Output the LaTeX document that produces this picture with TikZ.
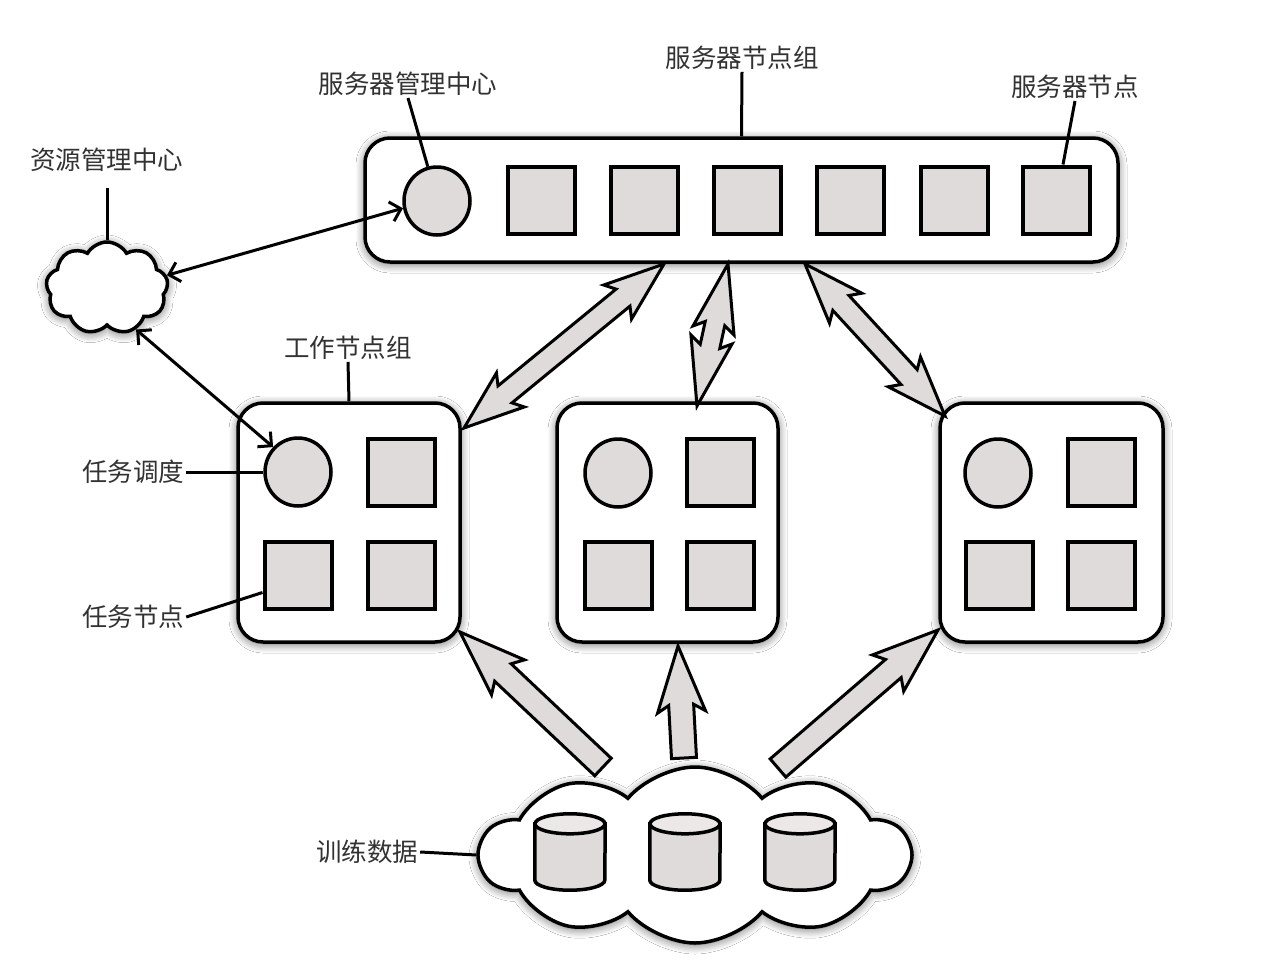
\documentclass[tikz,border=0pt]{standalone}
\usepackage{fontspec}
\setmainfont{Noto Sans CJK SC}
\usetikzlibrary{shapes.symbols,shapes.geometric,calc,arrows.meta,shadows.blur}
\definecolor{boxgray}{RGB}{224,219,219}
\definecolor{topgray}{RGB}{236,232,232}
\definecolor{txt}{RGB}{50,50,50}
\newcommand\fatdouble[5]{%
\draw[fat] let \p1=(#1), \p2=(#2), \n1={atan2(\y2-\y1,\x2-\x1)}, \n2={veclen(\x2-\x1,\y2-\y1)} in
 [shift={(\p1)}, rotate=\n1]
 (0pt,0pt) -- (#5,#4) -- (#5-7pt,#3) -- (\n2-#5+7pt,#3) -- (\n2-#5,#4) -- (\n2,0pt)
 -- (\n2-#5,-#4) -- (\n2-#5+7pt,-#3) -- (#5-7pt,-#3) -- (#5,-#4) -- cycle;}
\newcommand\fatsingle[5]{%
\draw[fat] let \p1=(#1), \p2=(#2), \n1={atan2(\y2-\y1,\x2-\x1)}, \n2={veclen(\x2-\x1,\y2-\y1)} in
 [shift={(\p1)}, rotate=\n1]
 (0pt,#3) -- (\n2-#5+7pt,#3) -- (\n2-#5,#4) -- (\n2,0pt)
 -- (\n2-#5,-#4) -- (\n2-#5+7pt,-#3) -- (0pt,-#3) -- cycle;}
% cylinder drawn around a named node: #1 node name
\newcommand\drum[1]{%
\draw[cylst] ([yshift=-10pt]#1.north west) -- ([yshift=10pt]#1.south west)
  arc[start angle=180, end angle=360, x radius=35pt, y radius=10pt]
  -- ([yshift=-10pt]#1.north east) -- cycle;
\draw[cylst, fill=topgray] ([yshift=-10pt]#1.north) ellipse[x radius=35pt, y radius=10pt];}
\begin{document}
\begin{tikzpicture}[x=1pt,y=-1pt,
  glow/.style={blur shadow={shadow xshift=0pt, shadow yshift=-2pt, shadow opacity=60, shadow blur radius=9pt, shadow blur steps=8}},
  group/.style={draw=black, line width=3.5pt, rounded corners=25pt, fill=white, glow},
  sq/.style={draw=black, line width=4pt, fill=boxgray, minimum width=67pt, minimum height=67pt, inner sep=0pt},
  circ/.style={draw=black, line width=3.5pt, fill=boxgray, ellipse, minimum width=66pt, minimum height=68pt, inner sep=0pt},
  lbl/.style={text=txt, font=\fontsize{25.5}{29}\selectfont, inner sep=2pt},
  lead/.style={draw=black, line width=3pt},
  thinarrow/.style={draw=black, line width=3pt, {Straight Barb[length=10pt,width=20pt]}-{Straight Barb[length=10pt,width=20pt]}},
  fat/.style={draw=black, line width=3pt, fill=boxgray, line join=miter},
  drumbox/.style={minimum width=70pt, minimum height=76pt, inner sep=0pt},
  cylst/.style={draw=black, line width=3.5pt, fill=boxgray},
  cloudy/.style={cloud, draw=black, line width=3.5pt, fill=white, glow, inner sep=0pt}
]
\useasboundingbox (0,0) rectangle (1278,972);
\fill[white] (0,0) rectangle (1278,972);

% server group
\node[group, minimum width=753pt, minimum height=124pt] (sg) at (741.5,200) {};
\node[circ] (c0) at (437,201) {};
\foreach \i/\x in {1/541,2/644,3/747,4/850,5/954,6/1056}
  \node[sq] (s\i) at (\x,200) {};

% resource cloud
\node[cloudy, cloud puffs=9, cloud puff arc=120, minimum width=122pt, minimum height=92pt] (cl) at (107,288) {};

% worker groups
\node[group, minimum width=222pt, minimum height=239pt] (w1) at (349,522.5) {};
\node[group, minimum width=221pt, minimum height=239pt] (w2) at (667.5,522.5) {};
\node[group, minimum width=223pt, minimum height=239pt] (w3) at (1051.5,522.5) {};
\node[circ] (wc1) at (298,472) {};
\node[sq] (wa1) at (401,472) {};
\node[sq] (wb1) at (298,575) {};
\node[sq] (wd1) at (401,575) {};
\node[circ] (wc2) at (618,473) {};
\node[sq] (wa2) at (720,472) {};
\node[sq] (wb2) at (618,575) {};
\node[sq] (wd2) at (720,575) {};
\node[circ] (wc3) at (998,473) {};
\node[sq] (wa3) at (1101,472) {};
\node[sq] (wb3) at (999,575) {};
\node[sq] (wd3) at (1101,575) {};

% data cloud
\node[cloudy, cloud puffs=10, cloud puff arc=100, minimum width=430pt, minimum height=176pt] (dc) at (695,855) {};
\node[drumbox] (d1) at (570,852) {};
\node[drumbox] (d2) at (685,852) {};
\node[drumbox] (d3) at (800,852) {};
\drum{d1}\drum{d2}\drum{d3}

% labels
\node[lbl] (l1) at (408,84) {服务器管理中心};
\node[lbl] (l2) at (742,58) {服务器节点组};
\node[lbl] (l3) at (1075,87) {服务器节点};
\node[lbl] (l4) at (107,160) {资源管理中心};
\node[lbl] (l5) at (348,348) {工作节点组};
\node[lbl] (l6) at (133,472) {任务调度};
\node[lbl] (l7) at (133,617) {任务节点};
\node[lbl] (l8) at (367,852) {训练数据};

% leader lines
\draw[lead] (l1.south) -- (c0.105);
\draw[lead] (l2.south) -- (sg.north);
\draw[lead] (l3.south) -- ([xshift=7pt]s6.north);
\draw[lead, shorten <=14pt] (l4.south) -- (cl.north);
\draw[lead] (l5.south) -- (w1.north);
\draw[lead] (l6.east) -- (wc1.west);
\draw[lead] (l7.east) -- ([yshift=18pt]wb1.south west);
\draw[lead] (l8.east) -- (dc.west);

% thin arrows
\draw[thinarrow] (c0.192) -- (cl.12);
\draw[thinarrow] (cl.-55) -- (wc1.135);

% fat arrows
\coordinate (a1t) at (664,264);
\coordinate (a1b) at (464,428);
\coordinate (a2t) at (728,264);
\coordinate (a2b) at (697,406);
\coordinate (a3t) at (805,264);
\coordinate (a3b) at (945,416);
\fatdouble{a1t}{a1b}{11pt}{22pt}{60pt}
\fatdouble{a2t}{a2b}{10pt}{21pt}{68pt}
\fatdouble{a3t}{a3b}{11pt}{22pt}{60pt}

\coordinate (b1s) at (603,767);
\coordinate (b1e) at (460,632);
\coordinate (b2s) at (684,758);
\coordinate (b2e) at (678,646);
\coordinate (b3s) at (778,768);
\coordinate (b3e) at (938,630);
\fatsingle{b1s}{b1e}{12pt}{24pt}{66pt}
\fatsingle{b2s}{b2e}{12.5pt}{24pt}{66pt}
\fatsingle{b3s}{b3e}{12pt}{24pt}{66pt}
\end{tikzpicture}
\end{document}
